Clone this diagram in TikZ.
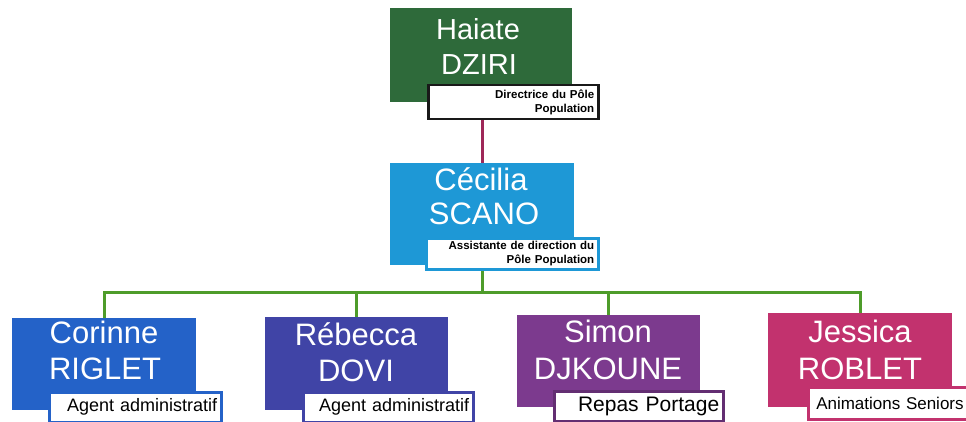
\documentclass[tikz,border=0pt]{standalone}
\usepackage{fontspec}
\setmainfont{Liberation Sans}
\definecolor{cHaiate}{RGB}{46,106,58}
\definecolor{cCecilia}{RGB}{30,152,214}
\definecolor{cCorinne}{RGB}{36,98,200}
\definecolor{cRebecca}{RGB}{64,68,166}
\definecolor{cSimon}{RGB}{124,58,142}
\definecolor{cJessica}{RGB}{194,50,110}
\definecolor{cMaroon}{RGB}{158,40,88}
\definecolor{cGreen}{RGB}{78,156,42}
\definecolor{cDark}{RGB}{25,25,25}
\begin{document}
\begin{tikzpicture}[x=1pt,y=-1pt,
  box/.style={rectangle, anchor=north west, inner sep=0pt, outer sep=0pt},
  lab/.style={rectangle, anchor=north west, fill=white, draw, line width=2.5pt,
    inner xsep=4pt, inner ysep=0pt, align=right, text=black},
  nm/.style={anchor=base, text=white, inner sep=0pt, font=\fontsize{31}{36}\selectfont},
  smallbold/.style={font=\fontsize{11.5}{13.5}\selectfont\bfseries},
  agent/.style={font=\fontsize{18}{20}\selectfont},
  mline/.style={draw=cMaroon, line width=3pt},
  gline/.style={draw=cGreen, line width=3pt}]
\useasboundingbox (0,0) rectangle (966,422);

% top
\node[box, fill=cHaiate, minimum width=182pt, minimum height=94pt] (hbox) at (390,8) {};
\node[lab, draw=cDark, minimum width=170pt, minimum height=34pt, text width=162pt, smallbold] (hlab) at (427,84) {Directrice du Pôle\\Population};
\node[nm, font=\fontsize{29}{35}\selectfont] (hn1) at (478,40) {Haiate};
\node[nm, font=\fontsize{29}{35}\selectfont] (hn2) at (479,75) {DZIRI};

% second
\node[box, fill=cCecilia, minimum width=184pt, minimum height=102pt] (cbox) at (390,163) {};
\node[lab, draw=cCecilia, minimum width=172pt, minimum height=31pt, text width=164pt, font=\fontsize{11.5}{14}\selectfont\bfseries] (clab) at (425,237) {Assistante de direction du\\Pôle Population};
\node[nm] (cn1) at (481,190) {Cécilia};
\node[nm] (cn2) at (484,225) {SCANO};

% bottom row
\node[box, fill=cCorinne, minimum width=184pt, minimum height=92pt] (b1) at (12,318) {};
\node[lab, draw=cCorinne, minimum width=172pt, minimum height=30pt, text width=164pt, agent] (l1) at (48,391) {Agent administratif};
\node[nm] (n1a) at (104,343) {Corinne};
\node[nm] (n1b) at (105,379) {RIGLET};

\node[box, fill=cRebecca, minimum width=183pt, minimum height=93pt] (b2) at (265,317) {};
\node[lab, draw=cRebecca, minimum width=170pt, minimum height=30pt, text width=162pt, agent] (l2) at (302,391) {Agent administratif};
\node[nm] (n2a) at (356,345) {Rébecca};
\node[nm] (n2b) at (356,381) {DOVI};

\node[box, fill=cSimon, minimum width=183pt, minimum height=92pt] (b3) at (517,315) {};
\node[lab, draw=cSimon!80!black, minimum width=169pt, minimum height=30pt, text width=161pt, font=\fontsize{21}{23}\selectfont] (l3) at (553,390) {Repas Portage};
\node[nm] (n3a) at (608,342) {Simon};
\node[nm] (n3b) at (608,379) {DJKOUNE};

\node[box, fill=cJessica, minimum width=184pt, minimum height=94pt] (b4) at (768,313) {};
\node[lab, draw=cJessica, minimum width=170pt, minimum height=32pt, text width=154pt, inner xsep=8pt, align=left, font=\fontsize{17}{19}\selectfont] (l4) at (807,386) {Animations Seniors};
\node[nm] (n4a) at (860,342) {Jessica};
\node[nm] (n4b) at (860,379) {ROBLET};

% connectors
\draw[mline] (cbox.north |- hlab.south) -- (cbox.north);
\coordinate (bus) at (483,292);
\draw[gline] (cbox.south |- clab.south) -- (cbox.south |- bus);
\draw[gline] (b1.north) |- (bus) -| (b4.north);
\draw[gline] (b2.north) -- (b2.north |- bus);
\draw[gline] (b3.north) -- (b3.north |- bus);
\end{tikzpicture}
\end{document}
